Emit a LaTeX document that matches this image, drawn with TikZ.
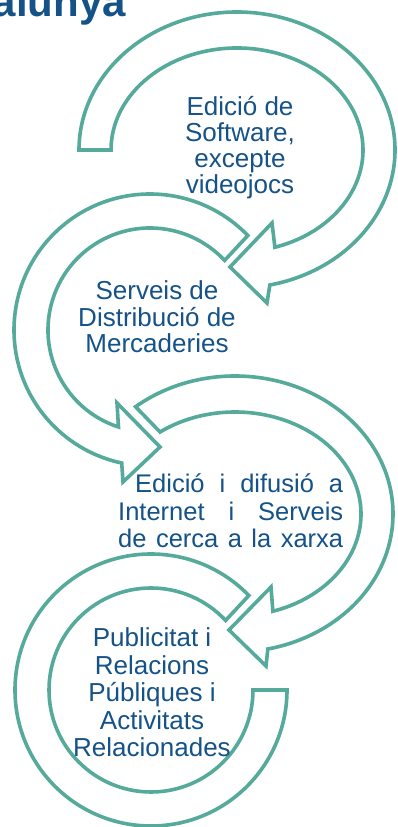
\documentclass[tikz,border=0pt]{standalone}
\usepackage{fontspec}
\setmainfont{Liberation Sans}
\usepackage{tikz}
\pgfdeclarelayer{background}
\pgfdeclarelayer{foreground}
\pgfsetlayers{background,main,foreground}
\definecolor{ringteal}{RGB}{86,170,156}
\definecolor{textblue}{RGB}{20,82,136}
\tikzset{
  ringarrow/.style={draw=ringteal, line width=3.6pt, fill=white, line join=miter},
  itemtext/.style={text=textblue, align=center, inner sep=0pt, anchor=base},
  titletext/.style={text=textblue, inner sep=0pt, font=\fontsize{42}{42}\selectfont\bfseries}
}
\begin{document}
\begin{tikzpicture}[x=1pt,y=1pt]
\useasboundingbox (0,0) rectangle (397,827);
\clip (0,0) rectangle (397,827);
\begin{pgfonlayer}{background}
\fill[white] (0,0) rectangle (397,827);
\end{pgfonlayer}

% first arrow, tail at the left
\begin{scope}[shift={(237,677)}]
\draw[ringarrow] (180:158 and 138) arc[start angle=180, end angle=-78, x radius=158, y radius=138]
  -- (30,-153) -- (-7,-117) -- (35,-73)
  -- (-72.5:126 and 102) arc[start angle=-72.5, end angle=180, x radius=126, y radius=102] -- cycle;
\end{scope}
% base of a node = baseline of its last line
\node[itemtext, font=\fontsize{26}{26}\selectfont] (software) at (240,633) {Edició de\\Software,\\excepte\\videojocs};

% second arrow
\begin{scope}[shift={(150,497)}]
\draw[ringarrow] (44:136) arc[start angle=44, end angle=258, radius=136]
  -- (-27,-152) -- (10,-117) -- (-33,-73)
  -- (252:102) arc[start angle=252, end angle=43, radius=102] -- cycle;
\end{scope}
\node[itemtext, font=\fontsize{26}{26.5}\selectfont] (distribucio) at (157,474) {Serveis de\\Distribució de\\Mercaderies};

% third arrow
\begin{scope}[shift={(235,313)}]
\draw[ringarrow] (129:158 and 138) arc[start angle=129, end angle=-78, x radius=158, y radius=138]
  -- (31,-152) -- (-6,-116) -- (36,-73)
  -- (-72.5:126 and 102) arc[start angle=-72.5, end angle=126.5, x radius=126, y radius=102] -- cycle;
\end{scope}
\node[itemtext, anchor=base west, align=left, font=\fontsize{25.5}{27.5}\selectfont] (internet) at (118,279)
  {\makebox[225pt][s]{\hspace*{17pt}Edició i difusió a}\\\makebox[225pt][s]{Internet i Serveis}\\\makebox[225pt][s]{de cerca a la xarxa}};

% last one, no head
\begin{scope}[shift={(151,137)}]
\draw[ringarrow] (44:136) arc[start angle=44, end angle=360, radius=136]
  -- (0:102) arc[start angle=360, end angle=43, radius=102] -- cycle;
\end{scope}
\node[itemtext, font=\fontsize{26}{27.5}\selectfont] (publicitat) at (152,70) {Publicitat i\\Relacions\\Públiques i\\Activitats\\Relacionades};

\node[titletext, anchor=base east] (titol) at (126,810) {alunya};
\end{tikzpicture}
\end{document}
